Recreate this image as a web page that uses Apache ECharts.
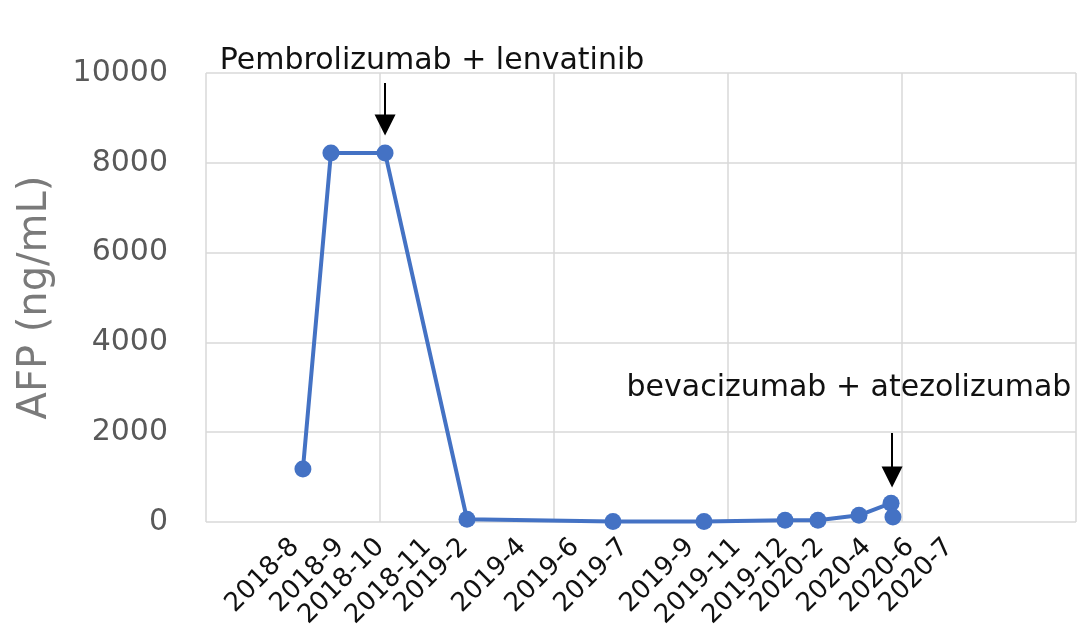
<!DOCTYPE html>
<html>
<head>
<meta charset="utf-8">
<script src="https://cdn.jsdelivr.net/npm/echarts@6/dist/echarts.min.js"></script>
<style>html,body{margin:0;padding:0;background:#fff}#c{width:1080px;height:625px}</style>
</head>
<body>
<div id="c"></div>
<script>
// x positions are in plot units (one vertical gridline interval = 1)
const pointX = [0.557, 0.718, 1.029, 1.5, 2.339, 2.862, 3.328, 3.517, 3.753, 3.937, 3.948];
const afpValues = [1180, 8220, 8220, 60, 10, 10, 40, 40, 150, 420, 110];
const tickLabels = ['2018-8','2018-9','2018-10','2018-11','2019-2','2019-4','2019-6','2019-7','2019-9','2019-11','2019-12','2020-2','2020-4','2020-6','2020-7'];
const tickLabelX = [0.512, 0.771, 1.001, 1.271, 1.484, 1.817, 2.121, 2.403, 2.782, 3.052, 3.323, 3.529, 3.800, 4.047, 4.271];
const yTicks = [0, 2000, 4000, 6000, 8000, 10000];
const annotations = [
  {text: 'Pembrolizumab + lenvatinib', x: 1.299, y: 10270},
  {text: 'bevacizumab + atezolizumab', x: 3.695, y: 2984}
];
const arrows = [
  {x: 1.029, from: 9780, to: 8842},
  {x: 3.943, from: 1982, to: 1002}
];

const FONT = 'DejaVu Sans';
const chart = echarts.init(document.getElementById('c'), null, {renderer: 'canvas'});
const seriesData = pointX.map((x, i) => [x, afpValues[i]]);

chart.setOption({
  animation: false,
  backgroundColor: '#ffffff',
  grid: {left: 206, right: 4, top: 73, bottom: 103, containLabel: false, outerBoundsMode: 'none'},
  xAxis: [
    {
      type: 'value', min: 0, max: 5, interval: 1, position: 'bottom',
      axisLine: {show: false}, axisTick: {show: false}, axisLabel: {show: false},
      splitLine: {show: true, lineStyle: {color: '#d9d9d9', width: 1.5}}
    },
    {
      type: 'value', min: 0, max: 5, position: 'bottom',
      axisLine: {show: false}, axisTick: {show: false},
      splitLine: {show: false},
      axisLabel: {
        show: true, customValues: tickLabelX, rotate: 45, margin: 21,
        fontFamily: FONT, fontSize: 26, color: '#111111', hideOverlap: false,
        formatter: function (v) {
          let best = 0, bd = Infinity;
          tickLabelX.forEach((t, i) => { const d = Math.abs(t - v); if (d < bd) { bd = d; best = i; } });
          return tickLabels[best];
        }
      }
    }
  ],
  yAxis: {
    type: 'value', min: 0, max: 10000, interval: 2000,
    name: 'AFP (ng/mL)', nameLocation: 'middle', nameGap: 150,
    nameTextStyle: {fontFamily: FONT, fontSize: 40, color: '#7a7a7a'},
    axisLine: {show: false}, axisTick: {show: false},
    axisLabel: {fontFamily: FONT, fontSize: 30, color: '#595959', margin: 38,
      customValues: yTicks, formatter: v => String(v)},
    splitLine: {show: true, lineStyle: {color: '#d9d9d9', width: 1.5}}
  },
  series: [{
    type: 'line', xAxisIndex: 0, data: seriesData,
    symbol: 'circle', symbolSize: 17,
    lineStyle: {color: '#4472c4', width: 4},
    itemStyle: {color: '#4472c4'},
    clip: false,
    markLine: {
      silent: true, symbol: ['none', 'triangle'], symbolSize: 21,
      label: {show: false},
      lineStyle: {color: '#000000', width: 2, type: 'solid'},
      data: arrows.map(a => [{coord: [a.x, a.from]}, {coord: [a.x, a.to]}])
    }
  }]
});

// annotation texts positioned through the chart's own scales
const textEls = annotations.map(a => {
  const p = chart.convertToPixel({xAxisIndex: 0, yAxisIndex: 0}, [a.x, a.y]);
  return {
    type: 'text', x: p[0], y: p[1], silent: true,
    style: {text: a.text, fontFamily: FONT, fontSize: 30, fill: '#111111',
      align: 'center', verticalAlign: 'middle'}
  };
});
chart.setOption({graphic: textEls});
</script>
</body>
</html>
